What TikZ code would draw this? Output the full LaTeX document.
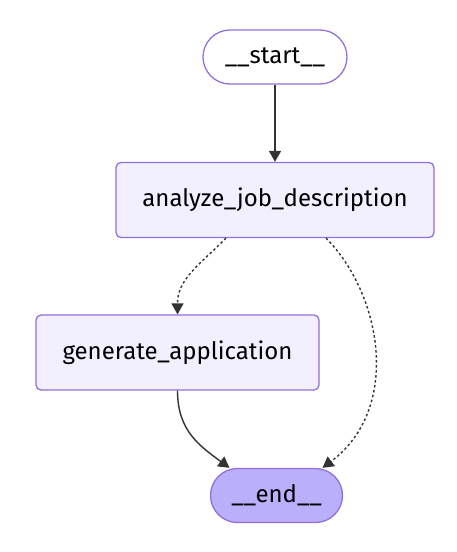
\documentclass[tikz,border=0pt]{standalone}
\usepackage{fontspec}
\setmainfont{Fira Sans}
\usetikzlibrary{arrows.meta}
\definecolor{nodefill}{HTML}{F2F0FF}
\definecolor{nodeline}{HTML}{9370DB}
\definecolor{lastfill}{HTML}{BAAFFA}
\definecolor{edgecol}{HTML}{333333}

\begin{document}
\begin{tikzpicture}[
  x=1pt,y=-1pt,
  font=\fontsize{24}{29}\selectfont,
  box/.style={rectangle,rounded corners=5pt,draw=nodeline,line width=1.3pt,fill=nodefill,
              minimum height=75pt,inner sep=0pt},
  term/.style={box,rounded corners=27pt,minimum height=54pt},
  arr/.style={-{Triangle[length=11pt,width=12pt]},line width=1.4pt,edgecol},
  opt/.style={arr,dash pattern=on 2.5pt off 2.5pt},
]
\useasboundingbox (0,0) rectangle (457,552);

% ===== graph nodes =====
\node[term,fill=white,minimum width=144pt] (start) at (275,57) {\_\_start\_\_};
\node[box,minimum width=318pt] (analyze) at (275,200) {analyze\_job\_description};
\node[box,minimum width=283pt] (generate) at (177.5,352.5) {generate\_application};
\node[term,fill=lastfill,minimum width=132pt] (end) at (276.5,495.5) {\_\_end\_\_};

% ===== edges =====
\draw[arr] (start) -- (analyze);
\draw[opt] ([xshift=-49pt]analyze.south) .. controls +(-28,28) and +(0,-35) .. (generate.north);
\draw[opt] ([xshift=51pt]analyze.south) .. controls +(55,55) and +(80,-60) .. ([xshift=46pt]end.north);
\draw[arr] (generate.south) .. controls +(0,40) and +(-30,-22) .. ([xshift=-47pt]end.north);
\end{tikzpicture}
\end{document}
